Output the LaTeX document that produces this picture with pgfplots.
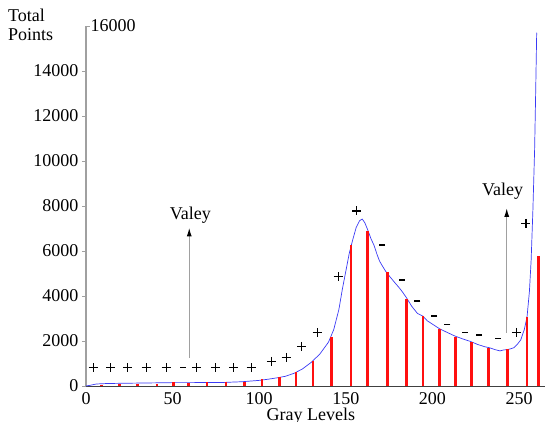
\documentclass[border=0pt]{standalone}
\usepackage{fontspec}
\setmainfont{Liberation Serif}
\usepackage{pgfplots}
\pgfplotsset{compat=1.18}
\usetikzlibrary{arrows.meta}
\newcommand\fs{\fontsize{18}{19}\selectfont}
\definecolor{histblue}{HTML}{3A3AF5}
\definecolor{barred}{HTML}{FF1010}
\definecolor{axgray}{HTML}{A0A0A0}

\begin{document}
\begin{tikzpicture}
\begin{axis}[
    scale only axis,
    width=459pt, height=360pt,
    xmin=0, xmax=265, ymin=0, ymax=16000,
    axis x line=bottom, axis y line=left,
    x axis line style={-, black!75, line width=0.8pt},
    y axis line style={-, axgray, line width=1.6pt},
    xtick={0,50,100,150,200,250},
    ytick={0,2000,4000,6000,8000,10000,12000,14000},
    extra y ticks={16000},
    extra y tick style={yticklabel style={anchor=west, xshift=1pt}, tick align=inside},
    xtick style={draw=none},
    ytick style={axgray, line width=0.8pt},
    major tick length=4pt,
    tick align=outside,
    scaled ticks=false,
    tick label style={font=\fs},
    /pgf/number format/assume math mode=true,
    /pgf/number format/1000 sep={},
    xticklabel style={yshift=1pt},
    clip=false,
]
% histogram curve
\addplot[histblue, line width=0.7pt, mark=none] coordinates {
 (0,0) (3,40) (6,90) (12,110) (20,120) (30,130) (40,140) (50,150) (60,150)
 (70,155) (80,160) (90,190) (100,250) (105,300) (110,360) (115,430) (120,560)
 (125,760) (130,1050) (135,1420) (140,1950) (143,2500) (146,3400) (148,4300)
 (150,5100) (152,5900) (154,6500) (156,7050) (158,7350) (159.5,7420) (161,7250)
 (162.6,6950) (164.5,6550) (166.3,6250) (168,5850) (169.5,5550) (171,5350)
 (173,5100) (175,4900) (178,4620) (181,4350) (183,4150) (185.2,3900) (188,3550)
 (191.3,3230) (194.6,3100) (197,2900) (200,2750) (204,2550) (208,2400)
 (213,2220) (218,2080) (222,1980) (226,1850) (230,1750) (233,1700) (236,1620)
 (239,1560) (241,1600) (243.4,1620) (245,1650) (247,1700) (249,1850) (251,2050)
 (253,2500) (254.6,3050) (256,4200) (257,5600) (258,7800) (259,10500)
 (259.6,13000) (260.2,15700)};
% sampled bars
\addplot[barred, line width=2.6pt, ycomb, mark=none] coordinates {
 (9.1,60) (19.3,80) (29.9,100) (40.9,110) (50.5,180) (59.2,130) (69.8,160)
 (80.8,160) (91.4,200) (101.6,290) (111.7,390) (121.2,640) (131,1130)
 (141.8,2180) (153,6270) (162.6,6890) (174,5070) (185.2,3870) (194.6,3110)
 (204.1,2530) (213.3,2200) (222.4,1970) (232.5,1700) (243.4,1630)
 (254.6,3070) (261.4,5800)};
% sign markers
\addplot[only marks, mark=+, mark size=4.5pt, black, line width=1.1pt] coordinates {
 (4.1,820) (14.2,820) (24,820) (34.7,820) (46.3,820) (63.7,820) (74.7,820)
 (85.2,820) (95.3,820) (107,1100) (115.6,1270) (124.6,1760) (133.4,2370)
 (145.6,4860) (156.2,7780) (248.4,2380) (254,7230)};
\addplot[only marks, mark=-, mark size=3pt, black, line width=1.6pt] coordinates {
 (56,820) (171,6270) (182.3,4710) (191.3,3780) (201,3120) (208.7,2740)
 (218.8,2370) (227,2270) (237.6,2120)};
% valley annotations
\draw[axgray, line width=1.4pt, -{Latex[length=9pt, width=5pt, color=black]}]
  (axis cs:59.6,1240) -- (axis cs:59.6,7050);
\node[font=\fs] at (axis cs:60.2,7580) {Valey};
\draw[axgray, line width=1.4pt, -{Latex[length=9pt, width=5pt, color=black]}]
  (axis cs:242.9,2370) -- (axis cs:242.9,7920);
\node[font=\fs] at (axis cs:240.5,8650) {Valey};
% axis titles
\node[font=\fs, align=left, anchor=north west, inner sep=0pt] at ([shift={(-78pt,17pt)}]rel axis cs:0,1) {Total\\Points};
\node[font=\fs, anchor=north, inner sep=0pt] at ([shift={(0pt,-22pt)}]rel axis cs:0.49,0) {Gray Levels};
\coordinate (o) at (rel axis cs:0,0);
\end{axis}
\pgfresetboundingbox
\path[use as bounding box] ([shift={(-86pt,-35pt)}]o) rectangle ([shift={(459pt,386pt)}]o);
\end{tikzpicture}
\end{document}
